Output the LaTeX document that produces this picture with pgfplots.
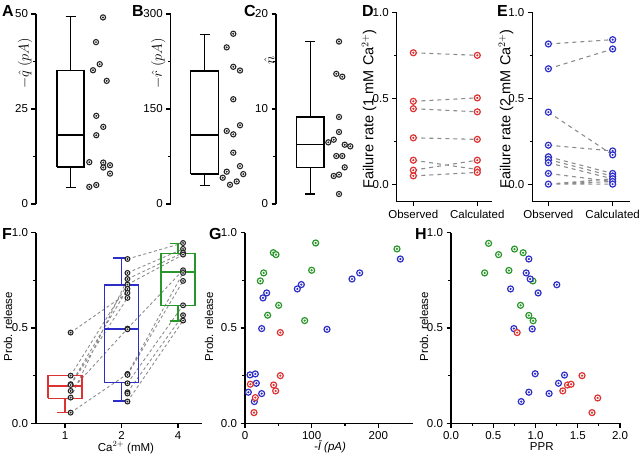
\documentclass[border=0pt]{standalone}
\usepackage{fontspec}
\setmainfont{Liberation Sans}
\usepackage{pgfplots}
\pgfplotsset{compat=1.18}

\definecolor{cred}{RGB}{220,50,50}
\definecolor{cblue}{RGB}{45,45,200}
\definecolor{cgreen}{RGB}{40,150,40}
\definecolor{cgray}{RGB}{140,140,140}

% circle with a dot in the middle
\pgfdeclareplotmark{odot}{%
  \pgfpathcircle{\pgfpointorigin}{\pgfplotmarksize}%
  \pgfusepathqfillstroke
  \pgfpathcircle{\pgfpointorigin}{0.12\pgfplotmarksize}%
  \pgfusepathqstroke
}

\pgfplotsset{
  panel/.style={
    scale only axis, anchor=south west, clip=false,
    axis line style={line width=1.4pt, black},
    tick style={line width=1.1pt, black},
    tick align=outside,
    major tick length=4.5pt, minor tick length=2.8pt,
    minor y tick num=1,
    tick label style={font=\fontsize{11.5}{13}\selectfont},
    label style={font=\fontsize{11.5}{13}\selectfont},
    /pgf/number format/assume math mode=true,
  },
  dec/.style={yticklabel style={/pgf/number format/.cd, fixed, fixed zerofill, precision=1}},
  dots/.style={only marks, mark=odot, mark size=2.6pt, line width=1.1pt, black!85, mark options={fill=white}},
  cdots/.style={only marks, mark=odot, mark size=3pt, line width=1.2pt, color=#1, mark options={fill=white}},
  link/.style={cgray, line width=1.1pt, dash pattern=on 4pt off 4pt, unbounded coords=jump},
  bx/.style={#1, line width=1.5pt, unbounded coords=jump, mark=none},
}

\begin{document}
\begin{tikzpicture}
\useasboundingbox (0,0) rectangle (640pt,453pt);

% ---------- A ----------
\begin{axis}[panel, at={(36pt,249pt)}, width=84pt, height=190pt,
  xmin=36, xmax=120, ymin=0, ymax=50, axis x line=none, axis y line*=left,
  ytick={0,25,50},
  ylabel={$-\hat{q}\;(pA)$},
  ylabel style={at={(axis description cs:-0.131,0.74)}, anchor=center, font=\fontsize{14}{16}\selectfont}]
\addplot[bx=black] coordinates {(57,9.8)(84,9.8)(84,35.1)(57,35.1)(57,9.8)(nan,nan)(57,18.1)(84,18.1)(nan,nan)
  (70.5,35.1)(70.5,49.3)(nan,nan)(65.5,49.3)(75.5,49.3)(nan,nan)(70.5,9.8)(70.5,4.4)(nan,nan)(65.5,4.4)(75.5,4.4)};
\addplot[dots] coordinates {(103,49.1)(96,42.6)(99.7,36.8)(93,35.2)(106.7,32.4)(96.3,23.2)(103.3,20.3)
  (96.3,18.1)(89.3,11.0)(103.3,10.9)(103.3,9.6)(110,10.2)(110,8.0)(96.3,5.0)(89.3,4.5)};
\end{axis}

% ---------- B ----------
\begin{axis}[panel, at={(170.7pt,249pt)}, width=79.3pt, height=190pt,
  xmin=170.7, xmax=250, ymin=0, ymax=300, axis x line=none, axis y line*=left,
  ytick={0,150,300},
  ylabel={$-\hat{r}\;(pA)$},
  ylabel style={at={(axis description cs:-0.156,0.74)}, anchor=center, font=\fontsize{14}{16}\selectfont}]
\addplot[bx=black] coordinates {(190.7,47)(218.3,47)(218.3,210.3)(190.7,210.3)(190.7,47)(nan,nan)(190.7,109.3)(218.3,109.3)(nan,nan)
  (204.5,210.3)(204.5,267.6)(nan,nan)(199.5,267.6)(209.5,267.6)(nan,nan)(204.5,47)(204.5,29.2)(nan,nan)(199.5,29.2)(209.5,29.2)};
\addplot[dots] coordinates {(233.3,268.8)(226.7,247.3)(233.3,216.6)(240,210.8)(233.3,165.4)(240,124.3)
  (226.7,115.3)(233.3,110)(233.3,81)(240,59.8)(226.7,51)(243.3,47.2)(222.7,41.5)(236.7,35.6)(230,30.4)};
\end{axis}

% ---------- C ----------
\begin{axis}[panel, at={(276pt,249pt)}, width=84pt, height=190pt,
  xmin=276, xmax=360, ymin=0, ymax=20, axis x line=none, axis y line*=left,
  ytick={0,10,20},
  ylabel={$\hat{n}$},
  ylabel style={at={(axis description cs:-0.08,0.758)}, anchor=center, font=\fontsize{14}{16}\selectfont}]
\addplot[bx=black] coordinates {(296.7,3.82)(324,3.82)(324,9.16)(296.7,9.16)(296.7,3.82)(nan,nan)(296.7,6.24)(324,6.24)(nan,nan)
  (310.3,9.16)(310.3,17.1)(nan,nan)(305.3,17.1)(315.3,17.1)(nan,nan)(310.3,3.82)(310.3,1.05)(nan,nan)(305.3,1.05)(315.3,1.05)};
\addplot[dots] coordinates {(339,17.1)(336.3,13.7)(342.3,13.4)(339,9.16)(339,7.58)(333.7,6.77)(328.3,6.49)
  (344.7,6.24)(350.3,6.07)(336.3,5.05)(342.3,5.05)(344.7,3.86)(333.7,2.95)(339,3.09)(339,1.05)};
\end{axis}

% ---------- D ----------
\begin{axis}[panel, dec, at={(396.7pt,251.3pt)}, width=95pt, height=189.4pt,
  xmin=0.74, xmax=2.225, ymin=-0.1, ymax=1, axis x line*=bottom, axis y line*=left,
  xtick={1,2}, xticklabels={Observed,Calculated}, ytick={0,0.5,1},
  ylabel={Failure rate (1 mM Ca$^{2+}$)},
  ylabel style={at={(axis description cs:-0.29,0.49)}, anchor=center, font=\fontsize{14.5}{16}\selectfont}]
\addplot[link] coordinates {(1,0.765)(2,0.750)(nan,nan)(1,0.483)(2,0.503)(nan,nan)(1,0.440)(2,0.422)(nan,nan)
  (1,0.271)(2,0.262)(nan,nan)(1,0.141)(2,0.087)(nan,nan)(1,0.083)(2,0.141)(nan,nan)(1,0.050)(2,0.070)};
\addplot[cdots=cred] coordinates {(1,0.765)(1,0.483)(1,0.440)(1,0.271)(1,0.141)(1,0.083)(1,0.050)
  (2,0.750)(2,0.503)(2,0.422)(2,0.262)(2,0.141)(2,0.087)(2,0.070)};
\end{axis}

% ---------- E ----------
\begin{axis}[panel, dec, at={(532.3pt,251.3pt)}, width=97.7pt, height=189.4pt,
  xmin=0.75, xmax=2.27, ymin=-0.1, ymax=1, axis x line*=bottom, axis y line*=left,
  xtick={1,2}, xticklabels={Observed,Calculated}, ytick={0,0.5,1},
  ylabel={Failure rate (2 mM Ca$^{2+}$)},
  ylabel style={at={(axis description cs:-0.269,0.49)}, anchor=center, font=\fontsize{14.5}{16}\selectfont}]
\addplot[link] coordinates {(1,0.816)(2,0.841)(nan,nan)(1,0.672)(2,0.787)(nan,nan)(1,0.420)(2,0.172)(nan,nan)
  (1,0.228)(2,0.195)(nan,nan)(1,0.161)(2,0.064)(nan,nan)(1,0.145)(2,0.048)(nan,nan)(1,0.126)(2,0.033)(nan,nan)
  (1,0.064)(2,0.017)(nan,nan)(1,0.002)(2,0.002)(nan,nan)(1,0.002)(2,0.017)(nan,nan)(1,0.002)(2,0.033)};
\addplot[cdots=cblue] coordinates {(1,0.816)(1,0.672)(1,0.420)(1,0.228)(1,0.161)(1,0.145)(1,0.126)(1,0.064)(1,0.002)
  (2,0.841)(2,0.787)(2,0.195)(2,0.172)(2,0.064)(2,0.048)(2,0.033)(2,0.017)(2,0.002)};
\end{axis}

% ---------- F ----------
\begin{axis}[panel, dec, at={(36pt,29.7pt)}, width=165.7pt, height=190.6pt,
  xmin=0.487, xmax=3.42, ymin=0, ymax=1, axis x line*=bottom, axis y line*=left,
  xtick={1,2,3}, xticklabels={1,2,4}, ytick={0,0.5,1},
  xlabel={Ca$^{2+}$ (mM)}, ylabel={Prob. release},
  xlabel style={at={(axis description cs:0.543,-0.128)}, anchor=center},
  ylabel style={at={(axis description cs:-0.169,0.507)}, anchor=center}]
\addplot[link, line width=0.9pt, dash pattern=on 3pt off 2.5pt] coordinates {
  (1.1,0.476)(2.106,0.684)(nan,nan)(1.1,0.250)(2.106,0.728)(nan,nan)(1.1,0.205)(2.106,0.705)(nan,nan)
  (1.1,0.201)(2.106,0.658)(nan,nan)(1.1,0.170)(2.106,0.497)(nan,nan)(1.1,0.135)(2.106,0.757)(nan,nan)
  (1.1,0.056)(2.106,0.259)(nan,nan)
  (2.106,0.862)(3.09,0.946)(nan,nan)(2.106,0.789)(3.09,0.915)(nan,nan)(2.106,0.757)(3.09,0.895)(nan,nan)
  (2.106,0.728)(3.09,0.885)(nan,nan)(2.106,0.497)(3.09,0.803)(nan,nan)(2.106,0.259)(3.09,0.789)(nan,nan)
  (2.106,0.254)(3.09,0.747)(nan,nan)(2.106,0.210)(3.09,0.619)(nan,nan)(2.106,0.163)(3.09,0.567)(nan,nan)
  (2.106,0.114)(3.09,0.539)};
\addplot[bx=cred] coordinates {(0.7,0.131)(1.3,0.131)(1.3,0.25)(0.7,0.25)(0.7,0.131)(nan,nan)(0.7,0.197)(1.3,0.197)(nan,nan)
  (1,0.131)(1,0.056)(nan,nan)(0.85,0.056)(1.15,0.056)};
\addplot[bx=cblue] coordinates {(1.7,0.213)(2.3,0.213)(2.3,0.726)(1.7,0.726)(1.7,0.213)(nan,nan)(1.7,0.495)(2.3,0.495)(nan,nan)
  (2,0.726)(2,0.866)(nan,nan)(1.85,0.866)(2.15,0.866)(nan,nan)(2,0.213)(2,0.117)(nan,nan)(1.85,0.117)(2.15,0.117)};
\addplot[bx=cgreen] coordinates {(2.7,0.617)(3.3,0.617)(3.3,0.892)(2.7,0.892)(2.7,0.617)(nan,nan)(2.7,0.795)(3.3,0.795)(nan,nan)
  (3,0.892)(3,0.944)(nan,nan)(2.85,0.944)(3.15,0.944)(nan,nan)(3,0.617)(3,0.537)(nan,nan)(2.85,0.537)(3.15,0.537)};
\addplot[dots, mark size=2.4pt, line width=1.1pt] coordinates {
  (1.1,0.476)(1.1,0.250)(1.1,0.205)(1.1,0.201)(1.1,0.170)(1.1,0.135)(1.1,0.056)
  (2.106,0.862)(2.106,0.789)(2.106,0.757)(2.106,0.728)(2.106,0.705)(2.106,0.684)(2.106,0.658)(2.106,0.497)
  (2.106,0.493)(2.106,0.259)(2.106,0.254)(2.106,0.210)(2.106,0.163)(2.106,0.156)(2.106,0.114)
  (3.09,0.946)(3.09,0.915)(3.09,0.895)(3.09,0.885)(3.09,0.803)(3.09,0.789)(3.09,0.747)(3.09,0.619)
  (3.09,0.567)(3.09,0.539)};
\end{axis}

% ---------- G ----------
\begin{axis}[panel, dec, at={(245pt,29.7pt)}, width=168pt, height=190.6pt,
  xmin=0, xmax=252, ymin=0, ymax=1, axis x line*=bottom, axis y line*=left,
  xtick={0,100,200}, minor x tick num=1, ytick={0,0.5,1},
  xlabel={\textit{-\={I} (pA)}}, ylabel={Prob. release},
  xlabel style={at={(axis description cs:0.506,-0.122)}, anchor=center},
  ylabel style={at={(axis description cs:-0.214,0.507)}, anchor=center}]
\addplot[cdots=cgreen] coordinates {(228,0.915)(106,0.946)(42.5,0.895)(46.5,0.885)(28,0.789)(23,0.747)
  (100,0.803)(50.5,0.619)(34,0.567)(89.5,0.539)};
\addplot[cdots=cblue] coordinates {(233,0.862)(172,0.789)(160.5,0.757)(84.5,0.728)(78.5,0.705)(32.5,0.684)
  (27,0.658)(25,0.497)(123,0.493)(7.5,0.254)(15.5,0.259)(17,0.210)(5,0.163)(25,0.156)(14,0.114)};
\addplot[cdots=cred] coordinates {(53,0.476)(53,0.250)(8,0.205)(43,0.201)(46,0.170)(15.5,0.135)(13.5,0.056)};
\end{axis}

% ---------- H ----------
\begin{axis}[panel, dec, at={(451pt,29.7pt)}, width=169pt, height=190.6pt,
  xmin=0, xmax=2, ymin=0, ymax=1, axis x line*=bottom, axis y line*=left,
  xtick={0,0.5,1,1.5,2}, minor x tick num=1, ytick={0,0.5,1},
  xticklabel style={/pgf/number format/.cd, fixed, fixed zerofill, precision=1},
  xlabel={PPR}, ylabel={Prob. release},
  xlabel style={at={(axis description cs:0.537,-0.122)}, anchor=center},
  ylabel style={at={(axis description cs:-0.16,0.507)}, anchor=center}]
\addplot[cdots=cgreen] coordinates {(0.445,0.944)(0.563,0.885)(0.752,0.914)(0.854,0.895)(0.398,0.789)
  (0.685,0.802)(0.969,0.747)(0.823,0.619)(0.921,0.566)(0.972,0.538)};
\addplot[cdots=cblue] coordinates {(0.921,0.862)(0.89,0.789)(0.937,0.757)(1.252,0.727)(0.705,0.705)
  (1.031,0.684)(0.744,0.497)(0.961,0.495)(0.996,0.260)(1.343,0.253)(1.272,0.210)(0.921,0.163)(1.161,0.156)(0.831,0.114)};
\addplot[cdots=cred] coordinates {(0.783,0.476)(1.551,0.250)(1.378,0.201)(1.421,0.205)(1.323,0.170)
  (1.736,0.133)(1.669,0.056)};
\end{axis}

% panel letters
\tikzset{lett/.style={anchor=north west, inner sep=0pt, font=\fontsize{16}{16}\selectfont\bfseries}}
\node[lett] at (2pt,448pt) {A};
\node[lett] at (132pt,448pt) {B};
\node[lett] at (244pt,448pt) {C};
\node[lett] at (362pt,448pt) {D};
\node[lett] at (497pt,448pt) {E};
\node[lett] at (2pt,225pt) {F};
\node[lett] at (209pt,225pt) {G};
\node[lett] at (415pt,225pt) {H};
\end{tikzpicture}
\end{document}
